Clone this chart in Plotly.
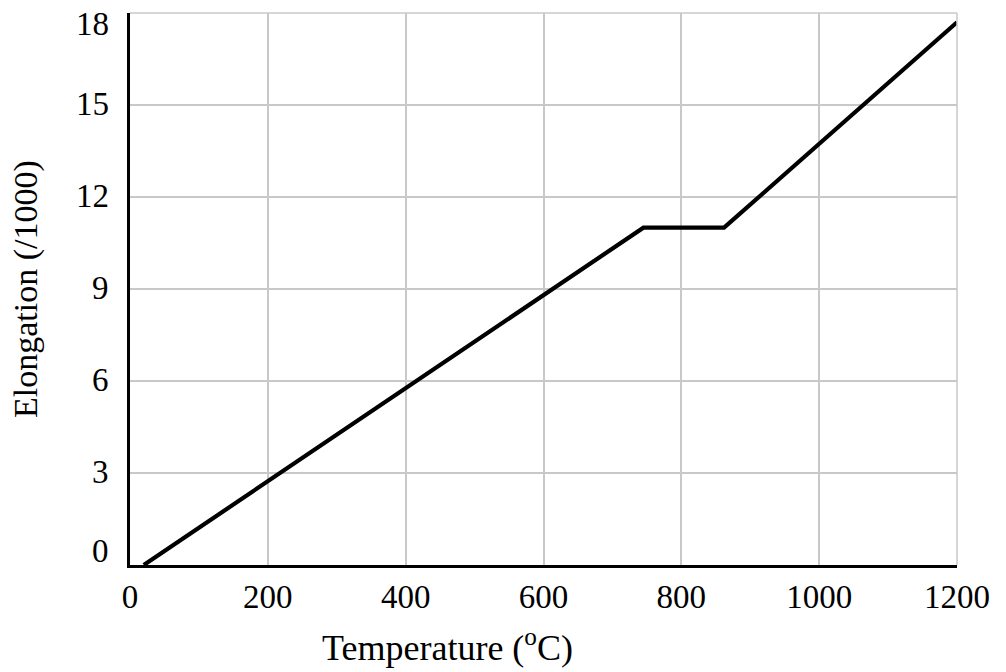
import plotly.graph_objects as go

temperature = [20, 745, 862, 1200]
elongation = [0, 11, 11, 17.7]
x_ticks = [0, 200, 400, 600, 800, 1000, 1200]
y_ticks = [0, 3, 6, 9, 12, 15, 18]

FONT = "Liberation Serif"

fig = go.Figure()
fig.add_trace(go.Scatter(x=temperature, y=elongation, mode="lines",
                         line=dict(color="black", width=4.2), showlegend=False))

y_label_anns = []
for v in y_ticks:
    if v == y_ticks[-1]:
        ya, ys = "top", 9
    elif v == y_ticks[0]:
        ya, ys = "bottom", -6
    else:
        ya, ys = "middle", 1
    y_label_anns.append(dict(text=str(v), xref="paper", yref="y", x=0, y=v,
                             xanchor="right", yanchor=ya, xshift=-19, yshift=ys,
                             showarrow=False, font=dict(family=FONT, size=33)))

fig.update_layout(
    width=1006, height=672,
    margin=dict(l=130, r=49, t=13, b=107),
    paper_bgcolor="white", plot_bgcolor="white",
    font=dict(family=FONT, size=33, color="black"),
    xaxis=dict(range=[0, 1200], tickvals=x_ticks, ticktext=[str(v) for v in x_ticks],
               showgrid=True, gridcolor="#c8c8c8", gridwidth=1.5,
               showline=True, linecolor="black", linewidth=3, mirror=False,
               zeroline=False, ticks="", ticklabelstandoff=0,
               tickfont=dict(family=FONT, size=33)),
    yaxis=dict(range=[0, 18], tickvals=y_ticks, showticklabels=False,
               showgrid=True, gridcolor="#c8c8c8", gridwidth=1.5,
               showline=True, linecolor="black", linewidth=3,
               zeroline=False, ticks=""),
    shapes=[
        dict(type="line", xref="paper", yref="paper", x0=0, x1=1, y0=1, y1=1,
             line=dict(color="#c8c8c8", width=1.5)),
        dict(type="line", xref="paper", yref="paper", x0=1, x1=1, y0=0, y1=1,
             line=dict(color="#c8c8c8", width=1.5)),
    ],
    annotations=y_label_anns + [
        dict(text="Temperature (<sup>o</sup>C)", xref="paper", yref="paper",
             x=(447 - 130) / 827, y=-(645 - 565) / 552, xanchor="center", yanchor="middle",
             showarrow=False, font=dict(family=FONT, size=36)),
        dict(text="Elongation (/1000)", xref="paper", yref="paper",
             x=-(130 - 26) / 827, y=0.5, xanchor="center", yanchor="middle",
             textangle=-90, showarrow=False, font=dict(family=FONT, size=34)),
    ],
)

fig.write_html("out.html")
